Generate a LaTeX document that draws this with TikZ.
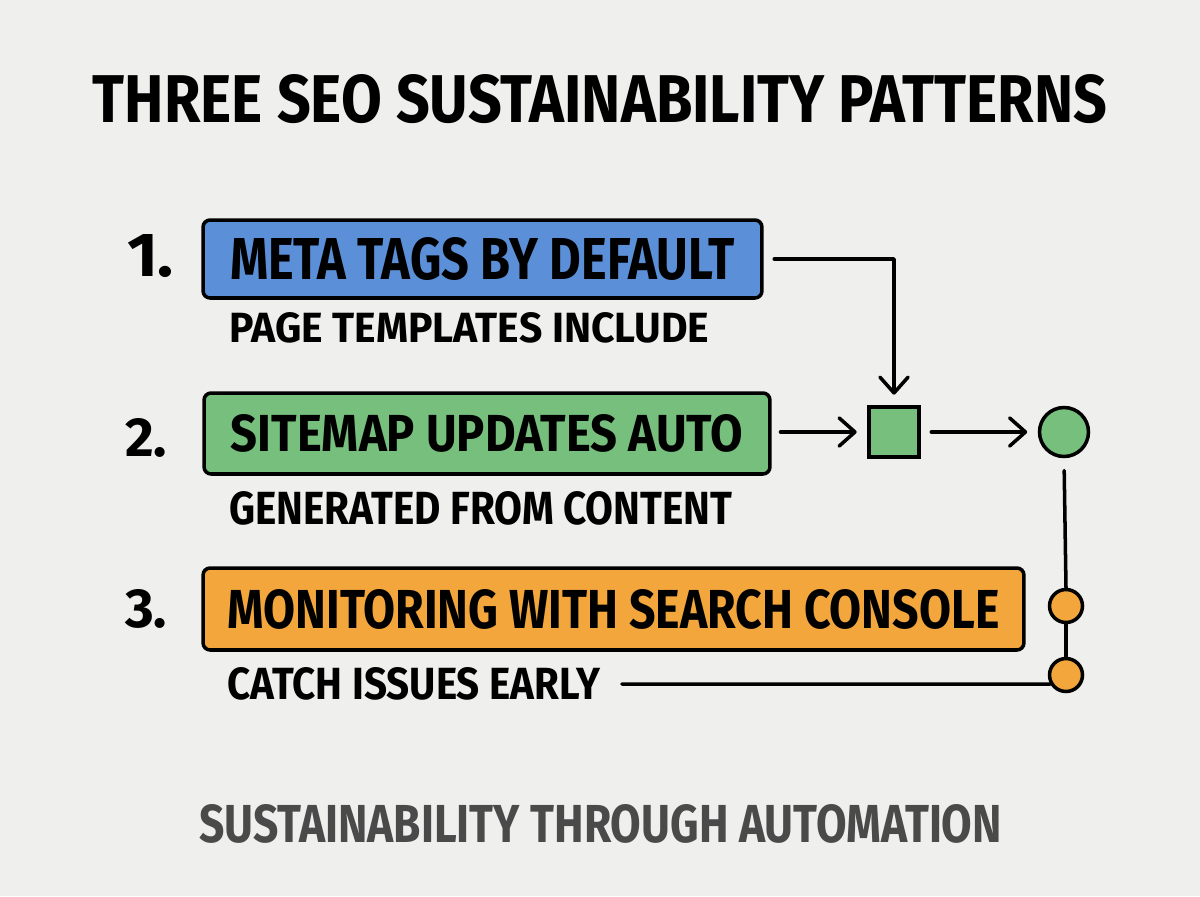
\documentclass[tikz,border=0pt]{standalone}
\usepackage{fontspec}
\setmainfont{Fira Sans}
\usepackage{graphicx}
\usetikzlibrary{arrows.meta,positioning}
\definecolor{paper}{HTML}{EFEFED}
\definecolor{metablue}{HTML}{5B8FD8}
\definecolor{mapgreen}{HTML}{76BF7C}
\definecolor{watchorange}{HTML}{F2A63C}
\definecolor{footgray}{HTML}{4A4A4A}
% squeeze bold caps into a given width and cap height
\newcommand{\capsfit}[3]{\resizebox{#1}{#2}{\bfseries #3}}

\begin{document}
\begin{tikzpicture}[x=0.02cm, y=-0.02cm,
    caps/.style={inner sep=0pt},
    bar/.style={draw, line width=2pt, rounded corners=4pt, inner sep=0pt},
    link/.style={line width=2pt, line cap=round, line join=round},
    arr/.style={link, -{Straight Barb[length=9pt,width=16pt,line width=2pt,round]}}]

    % Fond
    \fill[paper] (0,0) rectangle (1200,896);
    \useasboundingbox (0,0) rectangle (1200,896);

    % Titre
    \node[caps] (title) at (600,99) {\capsfit{20.28cm}{0.96cm}{THREE SEO SUSTAINABILITY PATTERNS}};

    % Motif 1
    \node[caps] (n1) at (150.5,256) {\capsfit{0.94cm}{0.84cm}{1.}};
    \node[bar, fill=metablue, minimum width=11.18cm, minimum height=1.56cm] (meta) at (482.5,259)
        {\capsfit{10.1cm}{0.84cm}{META TAGS BY DEFAULT}};
    \node[caps, anchor=west] (tmpl) at (229,328) {\capsfit{9.6cm}{0.6cm}{PAGE TEMPLATES INCLUDE}};

    % Motif 2
    \node[caps] (n2) at (146,438) {\capsfit{0.84cm}{0.76cm}{2.}};
    \node[bar, fill=mapgreen, minimum width=11.32cm, minimum height=1.62cm] (sitemap) at (487,433.5)
        {\capsfit{10.24cm}{0.74cm}{SITEMAP UPDATES AUTO}};
    \node[caps, anchor=west] (gen) at (229,508) {\capsfit{10.06cm}{0.66cm}{GENERATED FROM CONTENT}};

    % Motif 3
    \node[caps] (n3) at (146,609) {\capsfit{0.84cm}{0.76cm}{3.}};
    \node[bar, fill=watchorange, minimum width=16.42cm, minimum height=1.64cm] (console) at (613.5,609)
        {\capsfit{15.44cm}{0.78cm}{MONITORING WITH SEARCH CONSOLE}};
    \node[caps, anchor=west] (catch) at (227,684) {\capsfit{7.46cm}{0.64cm}{CATCH ISSUES EARLY}};

    % Flux
    \node[draw, line width=2pt, fill=mapgreen, minimum size=1.0cm, inner sep=0pt] (box) at (894,432) {};
    \node[draw, line width=2pt, fill=mapgreen, circle, minimum size=0.98cm, inner sep=0pt] (done) at (1064,432) {};
    \node[draw, line width=2pt, fill=watchorange, circle, minimum size=0.66cm, inner sep=0pt] (dotA) at (1066,606) {};
    \node[draw, line width=2pt, fill=watchorange, circle, minimum size=0.66cm, inner sep=0pt] (dotB) at (1066,675) {};

    \draw[arr, shorten <=6pt, shorten >=6pt] (meta.east) -| (box.north);
    \draw[arr, shorten <=5pt, shorten >=6pt] (sitemap.east |- box) -- (box.west);
    \draw[arr, shorten <=6pt, shorten >=6pt] (box.east) -- (done.west);
    \draw[link, shorten <=7pt] (done.south) -- (dotA.north);
    \draw[link] (dotA.south) -- (dotB.north);
    \draw[link, shorten <=12pt] (catch.east) -- (dotB.210);

    % Pied
    \node[caps, text=footgray] (foot) at (600.5,824) {\capsfit{16.06cm}{0.76cm}{SUSTAINABILITY THROUGH AUTOMATION}};
\end{tikzpicture}
\end{document}
